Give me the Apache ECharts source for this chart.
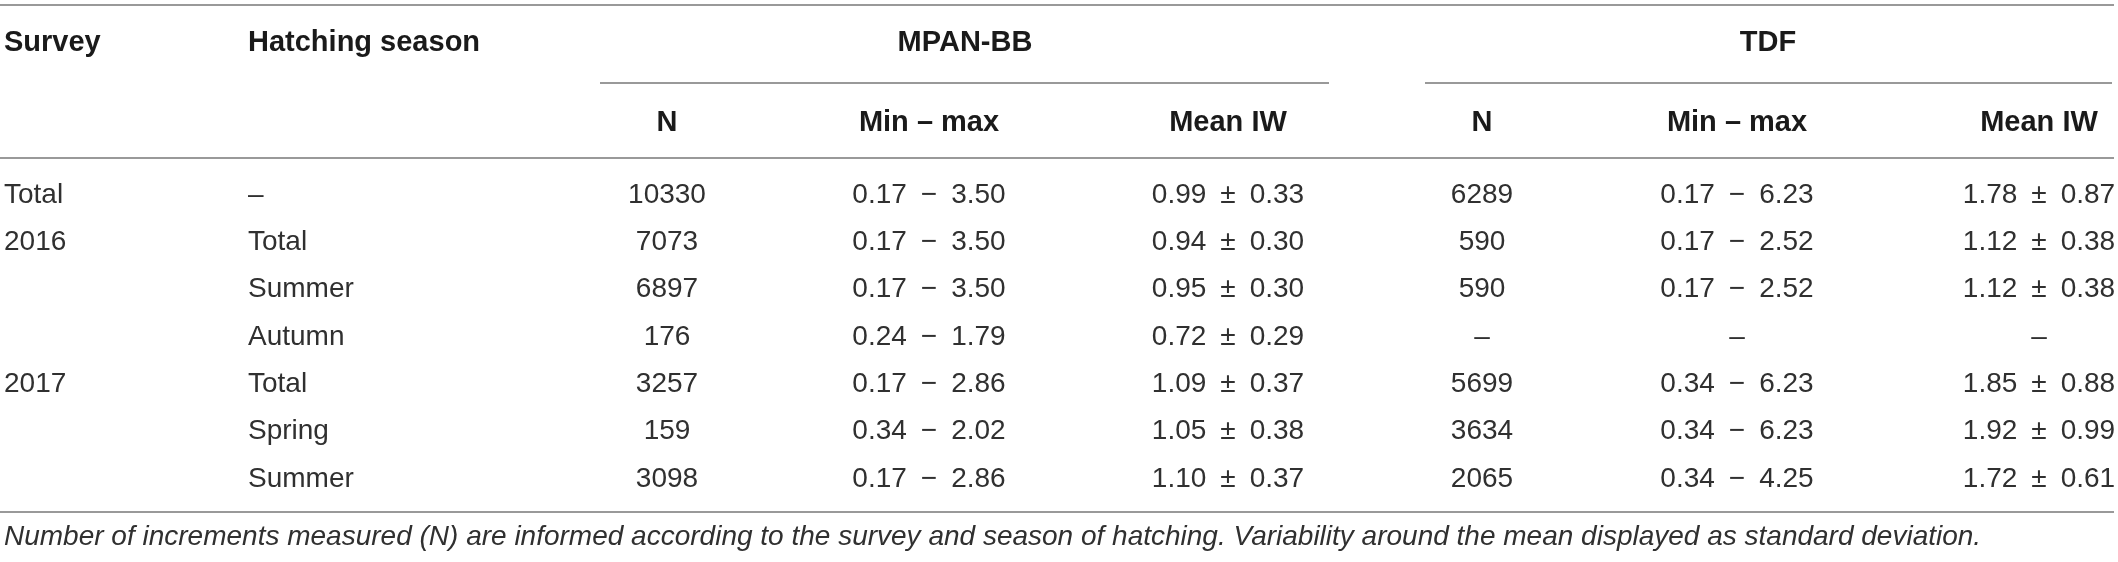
<!DOCTYPE html>
<html>
<head>
<meta charset="utf-8">
<script src="https://cdn.jsdelivr.net/npm/echarts@6/dist/echarts.min.js"></script>
<style>
html,body{margin:0;padding:0;background:#fff;}
#table{width:2118px;height:562px;}
</style>
</head>
<body>
<div id="table"></div>
<script>
// table content
var surveys = ['Total', '2016', '', '', '2017', '', ''];
var seasons = ['–', 'Total', 'Summer', 'Autumn', 'Total', 'Spring', 'Summer'];
var mpanN = [10330, 7073, 6897, 176, 3257, 159, 3098];
var mpanMin = [0.17, 0.17, 0.17, 0.24, 0.17, 0.34, 0.17];
var mpanMax = [3.50, 3.50, 3.50, 1.79, 2.86, 2.02, 2.86];
var mpanMean = [0.99, 0.94, 0.95, 0.72, 1.09, 1.05, 1.10];
var mpanSd = [0.33, 0.30, 0.30, 0.29, 0.37, 0.38, 0.37];
var tdfN = [6289, 590, 590, null, 5699, 3634, 2065];
var tdfMin = [0.17, 0.17, 0.17, null, 0.34, 0.34, 0.34];
var tdfMax = [6.23, 2.52, 2.52, null, 6.23, 6.23, 4.25];
var tdfMean = [1.78, 1.12, 1.12, null, 1.85, 1.92, 1.72];
var tdfSd = [0.87, 0.38, 0.38, null, 0.88, 0.99, 0.61];

var groupHeads = ['MPAN-BB', 'TDF'];
var colHeads = ['N', 'Min – max', 'Mean IW'];
var caption = 'Number of increments measured (N) are informed according to the survey and season of hatching. Variability around the mean displayed as standard deviation.';

// layout (pixels of the 2118 x 562 canvas)
var colX = [4, 248, 667, 929, 1228, 1482, 1737, 2039];
var head1Y = 43, head2Y = 123, firstRowY = 195, rowStep = 47.3, captionY = 537;
var dataSize = 28, headSize = 29, captionSize = 28;
var headColor = '#1a1a1a';
var textColor = '#303030';
var ruleColor = '#777777';
var SP = '\u2002'; // en space around minus and plus-minus

function fmtRange(a, b) { return a == null ? '–' : a.toFixed(2) + SP + '\u2212' + SP + b.toFixed(2); }
function fmtMean(m, s) { return m == null ? '–' : m.toFixed(2) + SP + '±' + SP + s.toFixed(2); }

// one item per cell: [x, y, text, align, bold]
var cells = [];
cells.push([colX[0], head1Y, 'Survey', 'left', 1]);
cells.push([colX[1], head1Y, 'Hatching season', 'left', 1]);
cells.push([965, head1Y, groupHeads[0], 'center', 1]);
cells.push([1768, head1Y, groupHeads[1], 'center', 1]);
for (var k = 0; k < 3; k++) {
  cells.push([colX[2 + k], head2Y, colHeads[k], 'center', 1]);
  cells.push([colX[5 + k], head2Y, colHeads[k], 'center', 1]);
}
for (var r = 0; r < seasons.length; r++) {
  var y = firstRowY + r * rowStep;
  cells.push([colX[0], y, surveys[r], 'left', 0]);
  cells.push([colX[1], y, seasons[r], 'left', 0]);
  cells.push([colX[2], y, String(mpanN[r]), 'center', 0]);
  cells.push([colX[3], y, fmtRange(mpanMin[r], mpanMax[r]), 'center', 0]);
  cells.push([colX[4], y, fmtMean(mpanMean[r], mpanSd[r]), 'center', 0]);
  cells.push([colX[5], y, tdfN[r] == null ? '–' : String(tdfN[r]), 'center', 0]);
  cells.push([colX[6], y, fmtRange(tdfMin[r], tdfMax[r]), 'center', 0]);
  cells.push([colX[7], y, fmtMean(tdfMean[r], tdfSd[r]), 'center', 0]);
}

// rules: [x1, x2, y]
var rules = [[0, 2114, 5], [600, 1329, 83], [1425, 2112, 83], [0, 2114, 158], [0, 2114, 512]];

var chart = echarts.init(document.getElementById('table'), null, { renderer: 'canvas' });
var option = {
  animation: false,
  grid: { left: 0, right: 0, top: 0, bottom: 0 },
  xAxis: { type: 'value', min: 0, max: 2118, show: false },
  yAxis: { type: 'value', min: 0, max: 562, inverse: true, show: false },
  series: [
    {
      type: 'custom',
      silent: true,
      data: rules,
      renderItem: function (params, api) {
        var p1 = api.coord([api.value(0), api.value(2)]);
        var p2 = api.coord([api.value(1), api.value(2)]);
        return {
          type: 'line',
          shape: { x1: p1[0], y1: p1[1], x2: p2[0], y2: p2[1] },
          style: { stroke: ruleColor, lineWidth: 1.6 }
        };
      }
    },
    {
      type: 'custom',
      silent: true,
      data: cells,
      renderItem: function (params, api) {
        var d = cells[params.dataIndex];
        var p = api.coord([d[0], d[1]]);
        return {
          type: 'text',
          x: p[0], y: p[1],
          style: {
            text: d[2],
            align: d[3],
            verticalAlign: 'middle',
            fill: d[4] ? headColor : textColor,
            font: (d[4] ? 'bold ' + headSize : dataSize) + 'px "Liberation Sans", Arial, sans-serif'
          }
        };
      }
    },
    {
      type: 'custom',
      silent: true,
      data: [[colX[0], captionY]],
      renderItem: function (params, api) {
        var p = api.coord([api.value(0), api.value(1)]);
        return {
          type: 'text',
          x: p[0], y: p[1],
          style: {
            text: caption,
            align: 'left',
            verticalAlign: 'middle',
            fill: textColor,
            font: 'italic ' + captionSize + 'px "Liberation Sans", Arial, sans-serif'
          }
        };
      }
    }
  ]
};
chart.setOption(option);
</script>
</body>
</html>
